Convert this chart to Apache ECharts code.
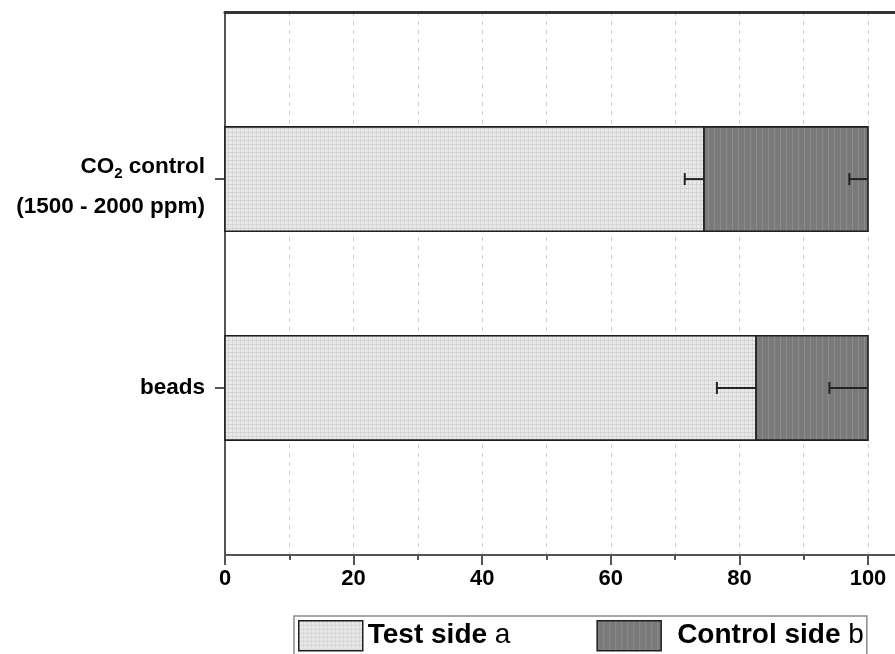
<!DOCTYPE html>
<html>
<head>
<meta charset="utf-8">
<script src="https://cdn.jsdelivr.net/npm/echarts@6/dist/echarts.min.js"></script>
<style>
html,body{margin:0;padding:0;background:#fff;}
#chart{width:895px;height:654px;}
</style>
</head>
<body>
<div id="chart"></div>
<script>
// ---- data ----
const categories = ['beads', 'CO2 control (1500 - 2000 ppm)'];
const categoryPos = [1, 2];
const testSide = [82.6, 74.5];       // Test side a (%)
const controlSide = [17.4, 25.5];    // Control side b (%)
const testErr = [6.1, 3.0];
const controlErr = [6.0, 2.9];
const xTicksMajor = [0, 20, 40, 60, 80, 100];
const xTicksMinor = [0, 10, 20, 30, 40, 50, 60, 70, 80, 90, 100];
const seriesNames = ['Test side a', 'Control side b'];

// ---- styling helpers ----
const FONT = '"Liberation Sans", Arial, sans-serif';
function makePattern(base, line, size, horiz) {
  const c = document.createElement('canvas');
  c.width = size; c.height = size;
  const g = c.getContext('2d');
  g.fillStyle = base; g.fillRect(0, 0, size, size);
  g.fillStyle = line; g.fillRect(0, 0, 1, size);
  if (horiz) g.fillRect(0, 0, size, 1);
  return { image: c, repeat: 'repeat' };
}
const lightFill = makePattern('#e9e9e9', '#d5d5d5', 4, true);
const darkFill = makePattern('#7a7a7a', '#8b8b8b', 6, false);
const BAR_HALF = 0.25;

function renderBar(fill) {
  return function (params, api) {
    const y = api.value(2);
    const p0 = api.coord([api.value(0), y]);
    const p1 = api.coord([api.value(1), y]);
    const h = api.size([0, BAR_HALF * 2])[1];
    return {
      type: 'rect',
      shape: { x: p0[0], y: p0[1] - h / 2, width: p1[0] - p0[0], height: h },
      style: { fill: fill, stroke: '#1e1e1e', lineWidth: 1.6 }
    };
  };
}
function renderErr(params, api) {
  const y = api.value(2);
  const v = api.value(0), e = api.value(1);
  const p0 = api.coord([v - e, y]);
  const p1 = api.coord([v, y]);
  return {
    type: 'group',
    children: [
      { type: 'line', shape: { x1: p0[0], y1: p0[1], x2: p1[0], y2: p1[1] }, style: { stroke: '#222', lineWidth: 2 } },
      { type: 'line', shape: { x1: p0[0], y1: p0[1] - 6, x2: p0[0], y2: p0[1] + 6 }, style: { stroke: '#222', lineWidth: 2 } }
    ]
  };
}

const testData = categoryPos.map((y, i) => [0, testSide[i], y]);
const ctrlData = categoryPos.map((y, i) => [testSide[i], testSide[i] + controlSide[i], y]);
const testErrData = categoryPos.map((y, i) => [testSide[i], testErr[i], y]);
const ctrlErrData = categoryPos.map((y, i) => [testSide[i] + controlSide[i], controlErr[i], y]);

const X_MAX = 104.2;

const chart = echarts.init(document.getElementById('chart'), null, { renderer: 'canvas' });
chart.setOption({
  animation: false,
  backgroundColor: '#fff',
  textStyle: { fontFamily: FONT },
  grid: { left: 225, top: 12, right: 0, bottom: 99 },
  xAxis: [
    {
      type: 'value', position: 'bottom', min: 0, max: X_MAX,
      axisLine: { show: true, lineStyle: { color: '#555', width: 2 } },
      axisTick: { show: true, customValues: xTicksMinor, length: 5, lineStyle: { color: '#555', width: 2 } },
      axisLabel: { show: false },
      splitLine: { show: true, lineStyle: { color: '#d2d2d2', width: 1, type: [4, 5] } }
    },
    {
      type: 'value', position: 'bottom', min: 0, max: X_MAX,
      axisLine: { show: false },
      axisTick: { show: true, customValues: xTicksMajor, length: 10, lineStyle: { color: '#555', width: 2 } },
      axisLabel: { show: true, customValues: xTicksMajor, margin: 13, fontSize: 22, fontWeight: 'bold', color: '#000', fontFamily: FONT },
      splitLine: { show: false }
    },
    {
      type: 'value', position: 'top', min: 0, max: X_MAX,
      axisLine: { show: true, lineStyle: { color: '#333', width: 3 } },
      axisTick: { show: false }, axisLabel: { show: false }, splitLine: { show: false }
    }
  ],
  yAxis: {
    type: 'value', min: 0.2, max: 2.8,
    axisLine: { show: true, lineStyle: { color: '#555', width: 2 } },
    axisTick: { show: true, customValues: categoryPos, length: 10, lineStyle: { color: '#555', width: 2 } },
    splitLine: { show: false },
    axisLabel: {
      show: true, customValues: categoryPos, margin: 20,
      fontSize: 22.5, fontWeight: 'bold', color: '#000', fontFamily: FONT,
      formatter: function (value) {
        const i = categoryPos.indexOf(value);
        const name = categories[i];
        if (name.indexOf('CO2') === 0) {
          const rest = name.slice(3);
          const parts = rest.split(' (');
          return '{c|CO}{s|2}{c|' + parts[0] + '}\n{d|(' + parts[1] + '}';
        }
        return '{a|' + name + '}';
      },
      rich: {
        a: { fontSize: 22.5, fontWeight: 'bold', color: '#000', fontFamily: FONT },
        c: { fontSize: 22.5, fontWeight: 'bold', color: '#000', fontFamily: FONT, lineHeight: 56 },
        s: { fontSize: 15, fontWeight: 'bold', color: '#000', fontFamily: FONT, lineHeight: 56, padding: [14, 0, 0, 0] },
        d: { fontSize: 22.5, fontWeight: 'bold', color: '#000', fontFamily: FONT, lineHeight: 24 }
      }
    }
  },
  legend: {
    data: seriesNames,
    left: 294, top: 616,
    orient: 'horizontal',
    borderColor: '#8a8a8a', borderWidth: 1.5, borderRadius: 0,
    padding: [4, 3, 12, 4],
    itemWidth: 64, itemHeight: 30, itemGap: 86,
    icon: 'rect',
    itemStyle: { borderColor: '#1e1e1e', borderWidth: 1.5 },
    selectedMode: false,
    textStyle: {
      fontFamily: FONT, fontSize: 28, fontWeight: 'bold', color: '#000',
      rich: {
        b: { fontFamily: FONT, fontSize: 28, fontWeight: 'bold', color: '#000' },
        r: { fontFamily: FONT, fontSize: 28, fontWeight: 'normal', color: '#000' },
        p: { width: 11 }
      }
    },
    formatter: function (name) {
      const idx = name.lastIndexOf(' ');
      const head = name.slice(0, idx), tail = name.slice(idx + 1);
      return (name === seriesNames[1] ? '{p|}' : '') + '{b|' + head + '} {r|' + tail + '}';
    }
  },
  series: [
    {
      name: seriesNames[0], type: 'custom', xAxisIndex: 0, z: 2,
      itemStyle: { color: lightFill },
      encode: { x: [0, 1], y: 2 },
      renderItem: renderBar(lightFill), data: testData
    },
    {
      name: seriesNames[1], type: 'custom', xAxisIndex: 0, z: 2,
      itemStyle: { color: darkFill },
      encode: { x: [0, 1], y: 2 },
      renderItem: renderBar(darkFill), data: ctrlData
    },
    {
      name: 'err-test', type: 'custom', xAxisIndex: 0, z: 5,
      encode: { x: 0, y: 2 }, renderItem: renderErr, data: testErrData
    },
    {
      name: 'err-control', type: 'custom', xAxisIndex: 0, z: 5,
      encode: { x: 0, y: 2 }, renderItem: renderErr, data: ctrlErrData
    }
  ]
});
</script>
</body>
</html>
